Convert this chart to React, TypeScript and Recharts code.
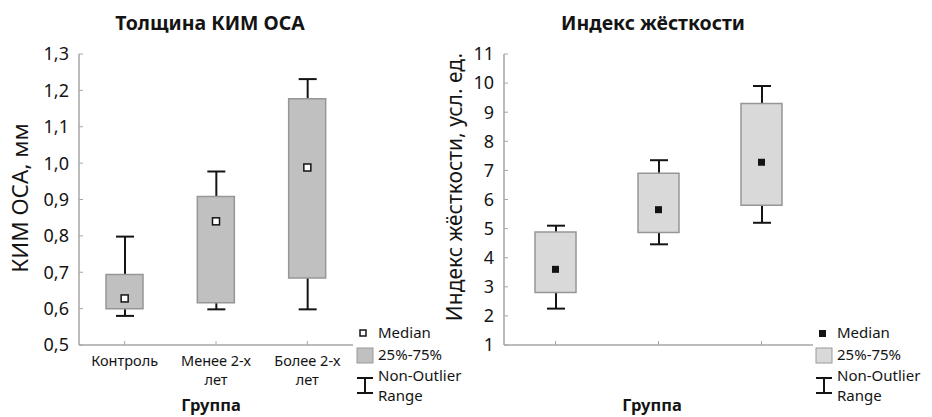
import React from 'react';
import { Bar, ComposedChart, Legend, Scatter, XAxis, YAxis } from 'recharts';

const FONT = '"Noto Sans", "DejaVu Sans", sans-serif';
const H = 417;

// Толщина КИМ ОСА, мм
const kimGroups = ['Контроль', 'Менее 2-х лет', 'Более 2-х лет'];
const kimMin = [0.58, 0.598, 0.598];
const kimQ1 = [0.6, 0.616, 0.684];
const kimMedian = [0.628, 0.84, 0.988];
const kimQ3 = [0.694, 0.908, 1.177];
const kimMax = [0.798, 0.977, 1.231];
const kimTicks = [0.5, 0.6, 0.7, 0.8, 0.9, 1.0, 1.1, 1.2, 1.3];

// Индекс жёсткости, усл. ед.
const stiffGroups = ['Контроль', 'Менее 2-х лет', 'Более 2-х лет'];
const stiffMin = [2.25, 4.46, 5.2];
const stiffQ1 = [2.8, 4.87, 5.8];
const stiffMedian = [3.6, 5.65, 7.28];
const stiffQ3 = [4.88, 6.9, 9.3];
const stiffMax = [5.1, 7.35, 9.9];
const stiffTicks = [1, 2, 3, 4, 5, 6, 7, 8, 9, 10, 11];

type Row = { group: string; whisker: number[]; box: number[]; median: number };

function buildRows(groups: string[], mins: number[], q1: number[], med: number[], q3: number[], maxs: number[]): Row[] {
  return groups.map((group, i) => ({
    group,
    whisker: [mins[i], maxs[i]],
    box: [q1[i], q3[i]],
    median: med[i],
  }));
}

const kimRows = buildRows(kimGroups, kimMin, kimQ1, kimMedian, kimQ3, kimMax);
const stiffRows = buildRows(stiffGroups, stiffMin, stiffQ1, stiffMedian, stiffQ3, stiffMax);

const BORDER = '#a6a6a6';
const INK = '#141414';

const WhiskerShape = (p: any) => {
  const { x, y, width, height } = p;
  const top = Math.min(y, y + height);
  const bottom = Math.max(y, y + height);
  const cx = x + width / 2;
  return (
    <g>
      <line x1={cx} x2={cx} y1={top} y2={bottom} stroke={INK} strokeWidth={2} />
      <line x1={x} x2={x + width} y1={top} y2={top} stroke={INK} strokeWidth={2} />
      <line x1={x} x2={x + width} y1={bottom} y2={bottom} stroke={INK} strokeWidth={2} />
    </g>
  );
};

const medianShape = (filled: boolean) => (p: any) => {
  const { cx, cy } = p;
  if (filled) return <rect x={cx - 3.5} y={cy - 3.5} width={7} height={7} fill={INK} />;
  return <rect x={cx - 3.5} y={cy - 3.5} width={7} height={7} fill="#fff" stroke={INK} strokeWidth={1.5} />;
};

const CatTick = (p: any) => {
  const { x, y, payload, show } = p;
  if (!show) return null;
  const v: string = payload.value;
  const lines = v.length > 10 ? [v.slice(0, v.lastIndexOf(' ')), v.slice(v.lastIndexOf(' ') + 1)] : [v];
  return (
    <text x={x} y={y + 25} textAnchor="middle" fontSize={14.5} fontFamily={FONT} fill={INK}>
      {lines.map((l, i) => (
        <tspan key={i} x={x} dy={i === 0 ? 0 : 18.5}>
          {l}
        </tspan>
      ))}
    </text>
  );
};

const LegendBox = ({ boxFill, filled }: { boxFill: string; filled: boolean }) => (
  <svg width={112} height={86} style={{ overflow: 'visible' }}>
    {filled ? (
      <rect x={5} y={8} width={7} height={7} fill={INK} />
    ) : (
      <rect x={5} y={8} width={6} height={6} fill="#fff" stroke={INK} strokeWidth={1.5} />
    )}
    <rect x={2} y={26} width={16} height={15} fill={boxFill} stroke="#9a9a9a" strokeWidth={1} />
    <line x1={10} x2={10} y1={56} y2={71} stroke={INK} strokeWidth={2} />
    <line x1={2} x2={18} y1={56} y2={56} stroke={INK} strokeWidth={2} />
    <line x1={2} x2={18} y1={71} y2={71} stroke={INK} strokeWidth={2} />
    <g fontFamily={FONT} fontSize={15} fill={INK}>
      <text x={23} y={16}>Median</text>
      <text x={23} y={38}>25%-75%</text>
      <text x={23} y={59}>Non-Outlier</text>
      <text x={23} y={79}>Range</text>
    </g>
  </svg>
);

type PanelProps = {
  left: number;
  width: number;
  plotLeft: number;
  plotRight: number;
  rows: Row[];
  domain: [number, number];
  ticks: number[];
  fmt: (v: number) => string;
  title: string;
  titleX: number;
  yLabel: string;
  yLabelX: number;
  yLabelY: number;
  yLabelSize: number;
  groupX: number;
  boxFill: string;
  boxSize: number;
  filled: boolean;
  showCats: boolean;
  legendLeft: number;
};

function BoxPanel(props: PanelProps) {
  const {
    left, width, plotLeft, plotRight, rows, domain, ticks, fmt, title, titleX,
    yLabel, yLabelX, yLabelY, yLabelSize, groupX, boxFill, boxSize, filled, showCats, legendLeft,
  } = props;
  return (
    <div style={{ position: 'absolute', left, top: 0, width, height: H }}>
      <div
        style={{
          position: 'absolute', left: titleX - 150, width: 300, top: 9, textAlign: 'center',
          fontFamily: FONT, fontWeight: 700, fontSize: 19.5, lineHeight: '28px', color: INK,
        }}
      >
        {title}
      </div>
      <ComposedChart
        width={width}
        height={H}
        data={rows}
        margin={{ top: 54, right: width - plotRight, bottom: 0, left: 0 }}
      >
        <XAxis
          xAxisId="cat"
          dataKey="group"
          height={72}
          axisLine={{ stroke: BORDER, strokeWidth: 1.5 }}
          tickLine={{ stroke: BORDER }}
          tickSize={-4}
          tickMargin={0}
          interval={0}
          tick={<CatTick show={showCats} />}
          label={() => (
            <text x={groupX} y={411} textAnchor="middle" fontFamily={FONT} fontWeight={700} fontSize={16.5} fill={INK}>
              Группа
            </text>
          )}
        />
        <XAxis xAxisId="w" dataKey="group" hide />
        <XAxis
          xAxisId="t"
          dataKey="group"
          orientation="top"
          height={0}
          tick={false}
          tickSize={-4}
          axisLine={{ stroke: BORDER, strokeWidth: 1.5 }}
          tickLine={{ stroke: BORDER }}
        />
        <YAxis
          yAxisId="v"
          width={plotLeft}
          type="number"
          domain={domain}
          ticks={ticks}
          interval={0}
          tickFormatter={fmt}
          tickSize={-4}
          tickMargin={14}
          axisLine={{ stroke: BORDER, strokeWidth: 1.5 }}
          tickLine={{ stroke: BORDER }}
          tick={{ fontSize: 18, fill: INK, fontFamily: FONT }}
          label={() => (
            <text
              x={yLabelX}
              y={yLabelY}
              transform={`rotate(-90, ${yLabelX}, ${yLabelY})`}
              textAnchor="middle"
              dy="0.35em"
              fontFamily={FONT}
              fontSize={yLabelSize}
              fill={INK}
            >
              {yLabel}
            </text>
          )}
        />
        <YAxis
          yAxisId="r"
          orientation="right"
          width={0}
          type="number"
          domain={domain}
          ticks={ticks}
          interval={0}
          tick={false}
          tickSize={-4}
          axisLine={{ stroke: BORDER, strokeWidth: 1.5 }}
          tickLine={{ stroke: BORDER }}
        />
        <Legend
          layout="horizontal"
          verticalAlign="middle"
          align="center"
          wrapperStyle={{ left: legendLeft, top: 322, width: 112, height: 86 }}
          content={() => <LegendBox boxFill={boxFill} filled={filled} />}
        />
        <Bar
          xAxisId="w"
          yAxisId="v"
          dataKey="whisker"
          barSize={18}
          shape={WhiskerShape}
          isAnimationActive={false}
          legendType="none"
        />
        <Bar
          xAxisId="cat"
          yAxisId="v"
          dataKey="box"
          barSize={boxSize}
          fill={boxFill}
          stroke="#969696"
          strokeWidth={1.5}
          isAnimationActive={false}
        />
        <Scatter
          xAxisId="cat"
          yAxisId="v"
          dataKey="median"
          shape={medianShape(filled)}
          isAnimationActive={false}
        />
      </ComposedChart>
    </div>
  );
}

export default function App() {
  return (
    <div style={{ position: 'absolute', left: 0, top: 0, width: 932, height: H, background: '#fff', fontFamily: FONT }}>
      <BoxPanel
        left={0}
        width={440}
        plotLeft={79}
        plotRight={353}
        rows={kimRows}
        domain={[0.5, 1.3]}
        ticks={kimTicks}
        fmt={(v) => v.toFixed(1).replace('.', ',')}
        title="Толщина КИМ ОСА"
        titleX={210}
        yLabel="КИМ ОСА, мм"
        yLabelX={20}
        yLabelY={198}
        yLabelSize={22.5}
        groupX={211}
        boxFill="#c0c0c0"
        boxSize={37}
        filled={false}
        showCats={true}
        legendLeft={355}
      />
      <BoxPanel
        left={440}
        width={492}
        plotLeft={64}
        plotRight={373}
        rows={stiffRows}
        domain={[1, 11]}
        ticks={stiffTicks}
        fmt={(v) => String(v)}
        title="Индекс жёсткости"
        titleX={213}
        yLabel="Индекс жёсткости, усл. ед."
        yLabelX={15}
        yLabelY={187}
        yLabelSize={21}
        groupX={212}
        boxFill="#d9d9d9"
        boxSize={41}
        filled={true}
        showCats={false}
        legendLeft={374}
      />
    </div>
  );
}
